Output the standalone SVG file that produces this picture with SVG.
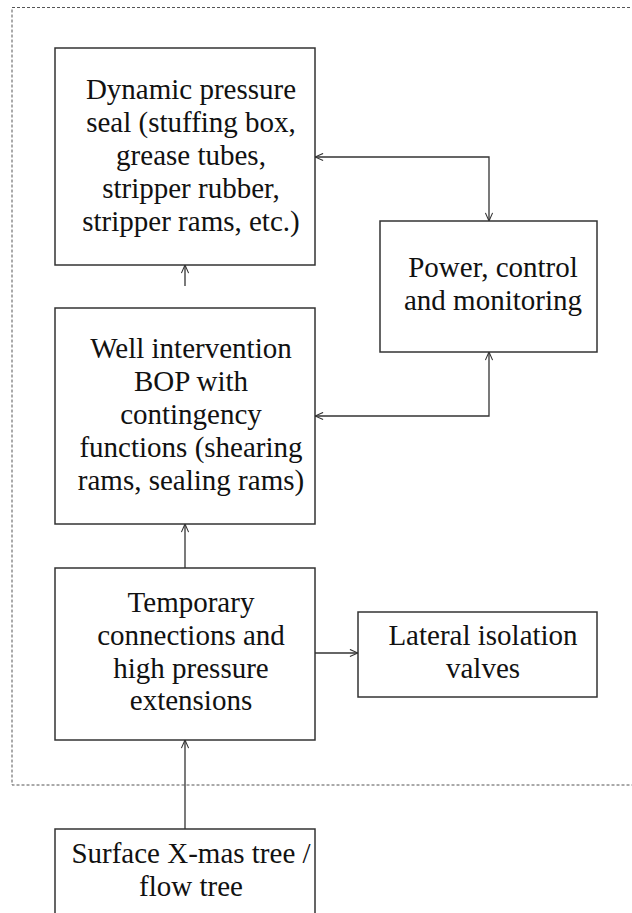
<svg xmlns="http://www.w3.org/2000/svg" width="632" height="913" viewBox="0 0 632 913">
<style>
.box{fill:#fff;stroke:#333;stroke-width:1.5}
.t{font-family:"Liberation Serif","Times New Roman",serif;font-size:29px;fill:#111;text-anchor:middle}
.c{fill:none;stroke:#333;stroke-width:1.3}
</style>
<defs>
<marker id="ah" viewBox="0 0 10 10" refX="10" refY="5" markerWidth="9" markerHeight="9" markerUnits="userSpaceOnUse" orient="auto-start-reverse">
<path d="M1,1 L10,5 L1,9" fill="none" stroke="#333" stroke-width="1.2"/>
</marker>
</defs>
<rect x="0" y="0" width="632" height="913" fill="#fff"/>
<rect id="boundary" x="12" y="7.5" width="640" height="777.5" fill="none" stroke="#555" stroke-width="1" stroke-dasharray="3,2"/>
<g id="dynamic-seal">
<rect class="box" x="55" y="48" width="260" height="217"/>
<text class="t" x="191" y="99">Dynamic pressure</text>
<text class="t" x="191" y="132">seal (stuffing box,</text>
<text class="t" x="191" y="165">grease tubes,</text>
<text class="t" x="191" y="198">stripper rubber,</text>
<text class="t" x="191" y="231">stripper rams, etc.)</text>
</g>
<g id="power">
<rect class="box" x="380" y="221" width="217" height="131"/>
<text class="t" x="493" y="277">Power, control</text>
<text class="t" x="493" y="310">and monitoring</text>
</g>
<g id="bop">
<rect class="box" x="55" y="308" width="260" height="216"/>
<text class="t" x="191" y="358">Well intervention</text>
<text class="t" x="191" y="391">BOP with</text>
<text class="t" x="191" y="424">contingency</text>
<text class="t" x="191" y="457">functions (shearing</text>
<text class="t" x="191" y="490">rams, sealing rams)</text>
</g>
<g id="temporary">
<rect class="box" x="55" y="568" width="260" height="172"/>
<text class="t" x="191" y="612">Temporary</text>
<text class="t" x="191" y="645">connections and</text>
<text class="t" x="191" y="678">high pressure</text>
<text class="t" x="191" y="710">extensions</text>
</g>
<g id="lateral">
<rect class="box" x="358" y="612" width="239" height="85"/>
<text class="t" x="483" y="645">Lateral isolation</text>
<text class="t" x="483" y="678">valves</text>
</g>
<g id="surface">
<rect class="box" x="55" y="829" width="260" height="100"/>
<text class="t" x="191" y="863">Surface X-mas tree /</text>
<text class="t" x="191" y="896">flow tree</text>
</g>
<g id="connectors">
<path class="c" d="M315,157 H489 V221" marker-start="url(#ah)" marker-end="url(#ah)"/>
<path class="c" d="M489,352 V416 H315" marker-start="url(#ah)" marker-end="url(#ah)"/>
<path class="c" d="M185,286 V265" marker-end="url(#ah)"/>
<path class="c" d="M185,568 V524" marker-end="url(#ah)"/>
<path class="c" d="M315,653 H358" marker-end="url(#ah)"/>
<path class="c" d="M185,829 V740" marker-end="url(#ah)"/>
</g>
</svg>
